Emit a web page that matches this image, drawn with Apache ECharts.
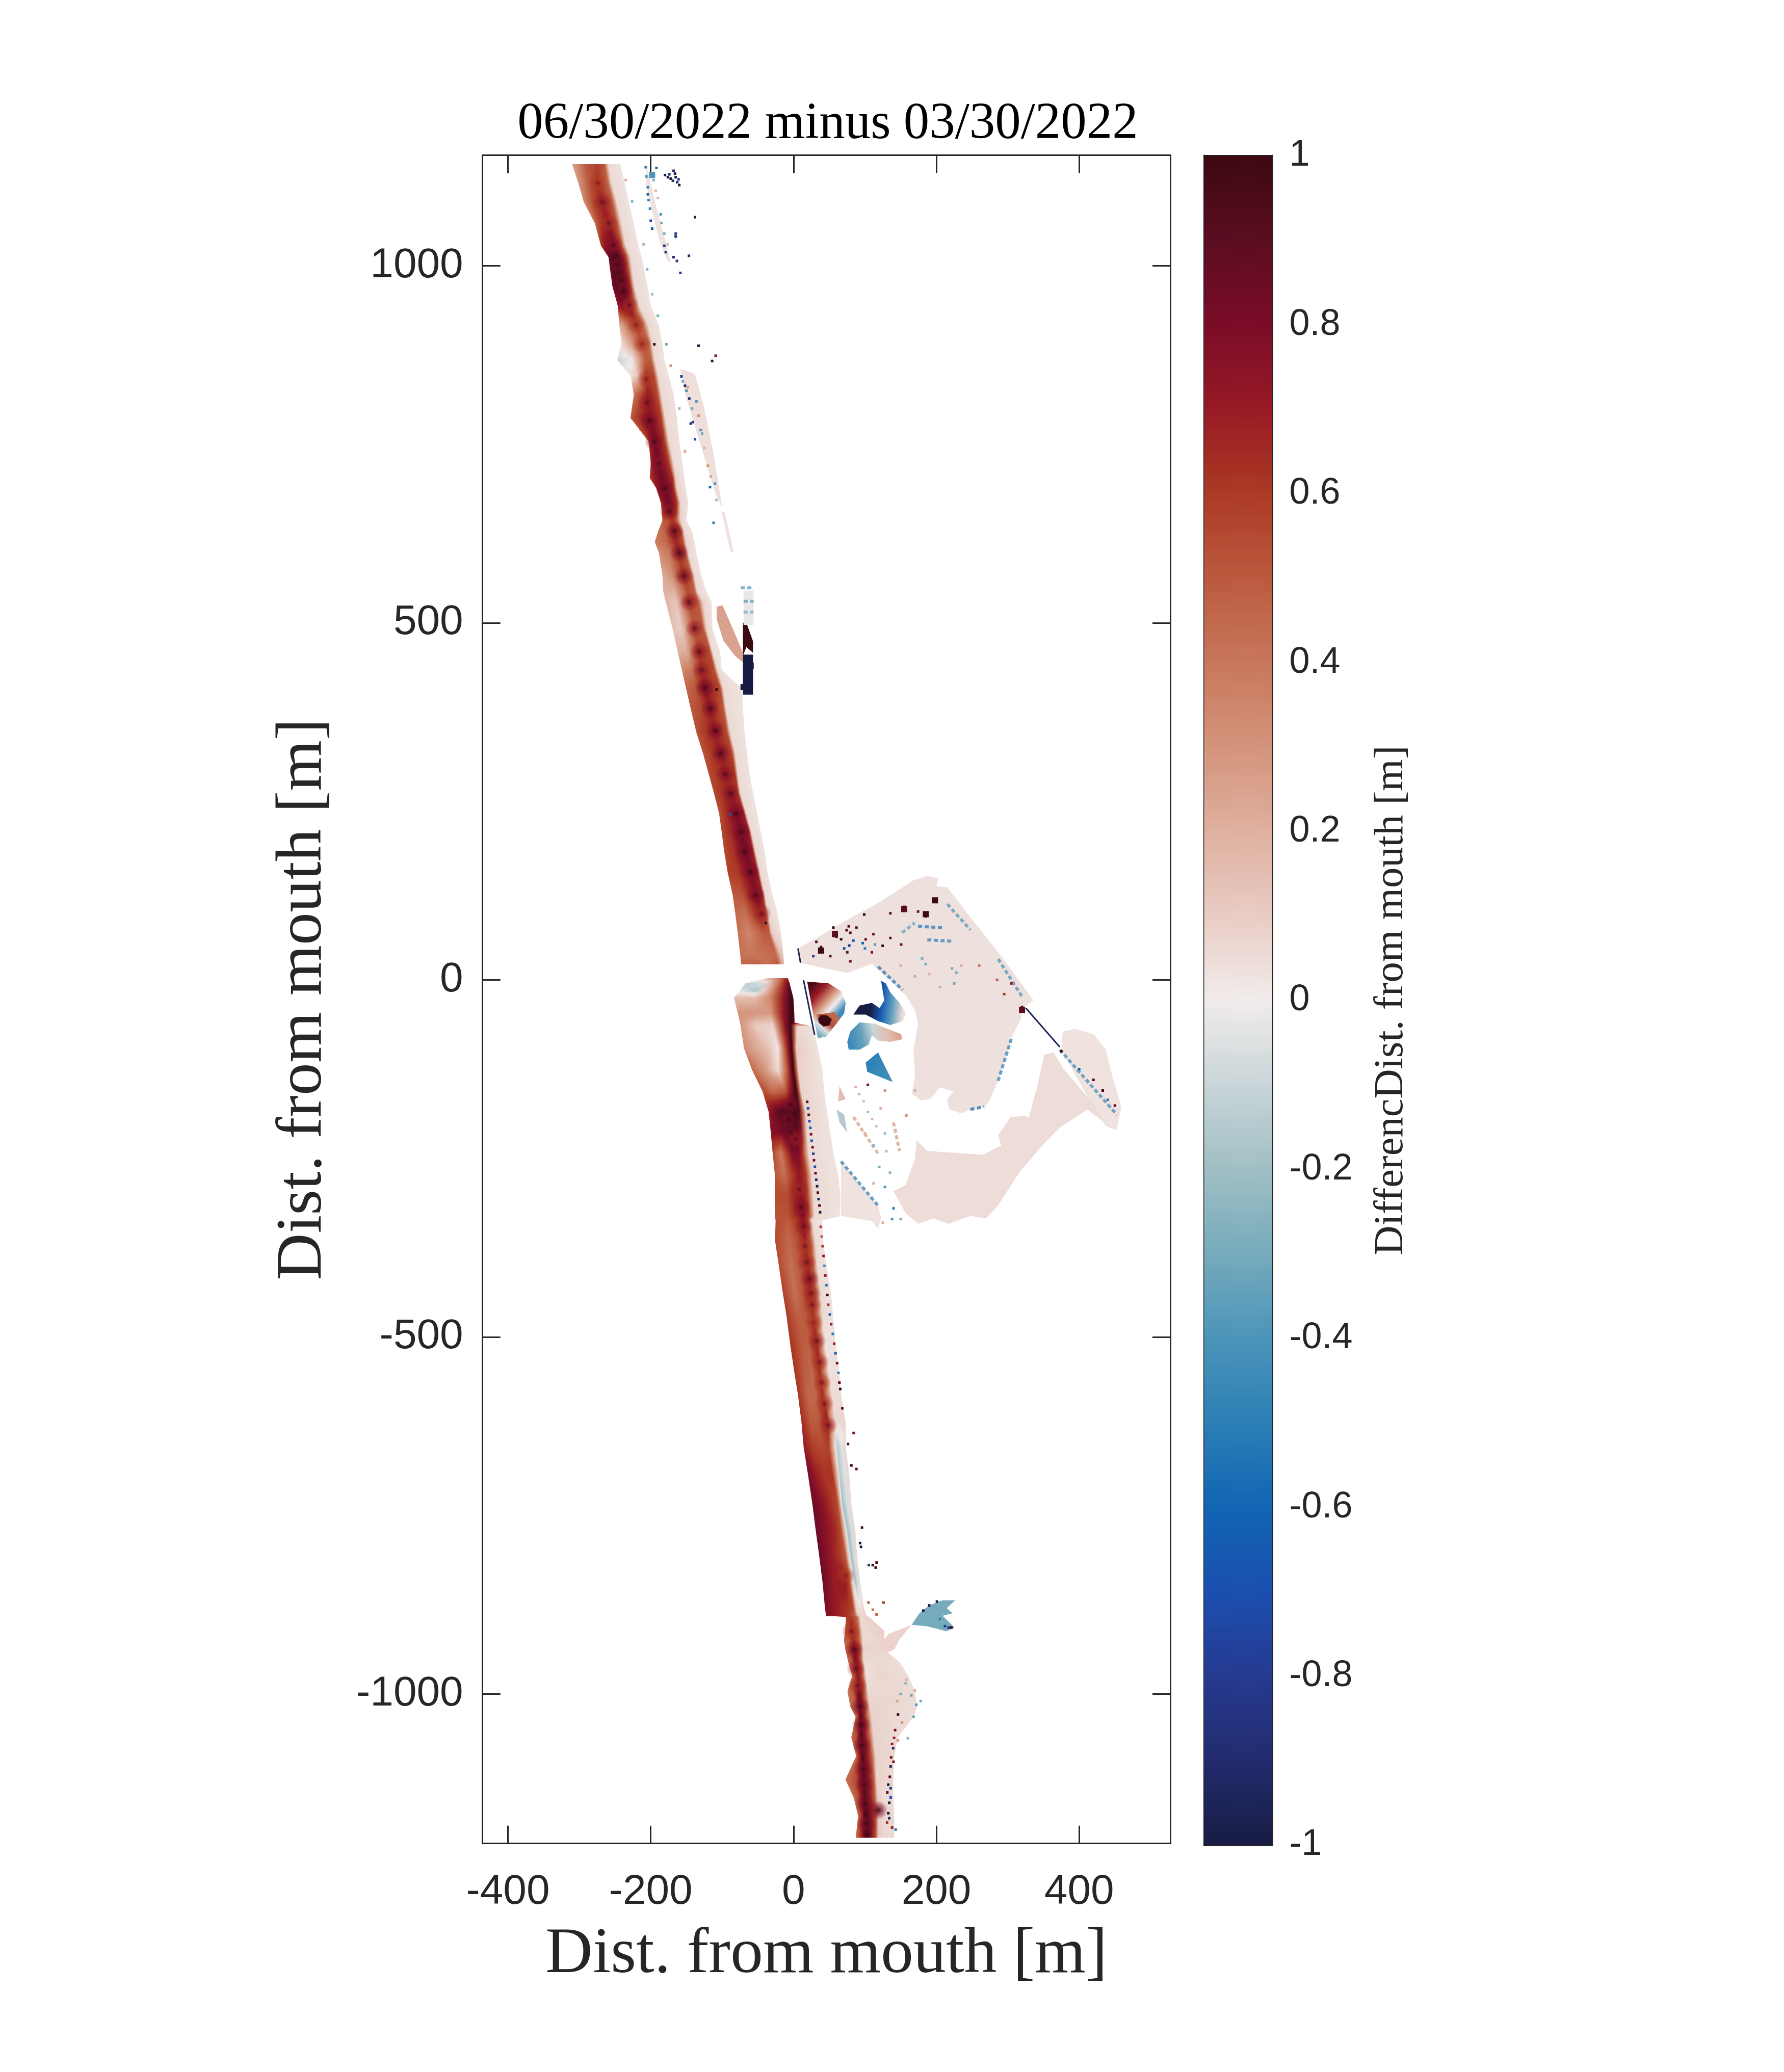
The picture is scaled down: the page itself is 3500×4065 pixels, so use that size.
<!DOCTYPE html>
<html>
<head>
<meta charset="utf-8">
<title>06/30/2022 minus 03/30/2022</title>
<script src="https://cdn.jsdelivr.net/npm/echarts@6/dist/echarts.min.js"></script>
<style>
  html, body { margin: 0; padding: 0; background: #fff; }
  #chart { width: 3500px; height: 4065px; }
</style>
</head>
<body>
<div id="chart"></div>
<script>
var xTicks = [-400, -200, 0, 200, 400];
var yTicks = [-1000, -500, 0, 500, 1000];
var cbTicks = [-1, -0.8, -0.6, -0.4, -0.2, 0, 0.2, 0.4, 0.6, 0.8, 1];

// colour map of the bar, value -> colour
var cmapValues = [-1, -0.9, -0.8, -0.7, -0.6, -0.5, -0.4, -0.3, -0.2, -0.1, 0, 0.1, 0.2, 0.3, 0.4, 0.5, 0.6, 0.7, 0.8, 0.9, 1];
var cmapColors = ['#181c43', '#222c6e', '#263a90', '#1b4fb0', '#1165b3', '#2b7fb5', '#4c95ba', '#76abbc', '#a0bfc4', '#c9d5d8', '#f1eceb',
  '#e9ccc4', '#dfb09f', '#d4947c', '#c8775b', '#bb5a3e', '#ac3a24', '#971a24', '#7b0c28', '#5b0d20', '#3c0912'];

// north strip, y then x,value pairs going landward
var northRows = [
  [1142, -310, .25, -290.4, .5, -274.5, .58, -265, .5, -259.2, .06, -242.7, .03],
  [1116, -301.5, .28, -287, .5, -274, .62, -260, .45, -255, .06, -236.4, .03],
  [1089, -293.6, .33, -281, .55, -267.5, .68, -253.8, .5, -247.5, .06, -230.7, .03],
  [1059, -278, .42, -271.3, .58, -258.6, .72, -247.5, .5, -241, .06, -223.7, .03],
  [1028, -269.7, .6, -265, .72, -252, .85, -241, .55, -234.8, .06, -217.3, .03],
  [1012, -259, .85, -255.5, .9, -246, .98, -234.8, .6, -228.4, .06, -212.6, .03],
  [972, -253.8, .8, -249, .95, -239.6, 1, -228.4, .6, -223, .06, -204.6, .03],
  [943, -245.9, .7, -241, .75, -230, .78, -222, .45, -215.7, .06, -199.8, .03],
  [917, -244, .2, -233, .4, -220.5, .58, -211, .45, -203, .06, -188.7, .03],
  [892, -241, .06, -226.8, .28, -212.5, .5, -203, .45, -198, .06, -184, .03],
  [868, -246.5, -.12, -226.8, 0, -207.8, .48, -199.8, .5, -194.4, .06, -180.8, .03],
  [845, -228, .02, -217.3, .15, -206, .62, -195, .55, -189.4, .06, -174.4, .03],
  [819, -223.7, .4, -214, .55, -204, .7, -190.3, .55, -185, .06, -168, .04],
  [787, -228.4, .5, -214, .65, -201.4, .75, -185.6, .6, -179.8, .06, -163.3, .04],
  [754, -203, .55, -199.8, .7, -194.4, .85, -180.8, .62, -174.4, .06, -160, .04],
  [723, -199.8, .65, -196.7, .75, -188.7, .82, -174.4, .6, -168, .06, -155.4, .03],
  [703, -201.4, .58, -191.9, .75, -184, .85, -169.7, .65, -165, .08, -152.8, .03],
  [688, -191.9, .7, -187, .78, -180.8, .85, -168, .65, -163.3, .08, -150.6, .03],
  [667, -185.5, .65, -180.8, .78, -173, .85, -163.3, .62, -158.5, .08, -147.4, .03],
  [643, -183.6, .5, -174, .55, -170, .62, -165, .55, -158, .08, -150, .03],
  [628, -189.6, .4, -176.5, .5, -167, .65, -157.5, .55, -153.3, .06, -142.1, .03],
  [613, -194.3, .38, -178.9, .45, -164.7, .68, -155.2, .55, -150.4, .08, -138.6, .03],
  [598, -188.4, .33, -174.1, .4, -160.4, .62, -151.6, .5, -148, .06, -136.2, .03],
  [566, -183.6, .22, -171.8, .3, -154, .6, -143.3, .5, -138.6, .06, -129.1, .03],
  [544, -182.4, .2, -167, .2, -148, .55, -138.6, .48, -135, .06, -122, .03],
  [529, -178.9, .18, -164.7, .12, -146.4, .55, -133.8, .5, -126.7, .08, -114.8, .03],
  [492, -169.4, .14, -157.5, .1, -138.6, .5, -126.7, .5, -122, .08, -113.6, .03],
  [460, -162.3, .2, -150.4, .2, -132.6, .6, -117.2, .55, -113.6, .04, -103, .03],
  [434, -156.4, .33, -143.3, .4, -129.1, .62, -111.3, .55, -106.5, .06, -100.6, .03],
  [408, -150.4, .45, -138.6, .5, -124.3, .75, -103, .55, -98.2, .06, -72.1, .03],
  [380, -144, .5, -131.4, .55, -117.2, .68, -98.2, .5, -94.7, .06, -70.9, .03],
  [347, -136.2, .52, -124.3, .6, -110.1, .68, -93.5, .55, -88.7, .06, -68.6, .03],
  [317, -126.7, .52, -114.8, .6, -101.8, .7, -86.4, .58, -81.6, .06, -65, .03],
  [287, -118.4, .55, -107.7, .6, -94.7, .68, -81.6, .6, -78, .06, -61.5, .03],
  [261, -111.3, .55, -100.6, .62, -88.7, .68, -78, .62, -74.5, .06, -56.7, .03],
  [233, -104.2, .52, -93.5, .65, -80.4, .78, -69.8, .68, -66.2, .06, -50.8, .03],
  [207, -100.6, .55, -88.7, .65, -73.3, .84, -62.6, .7, -59.1, .06, -46, .03],
  [179, -97, .55, -84, .62, -68.6, .84, -56.7, .68, -53.1, .06, -40.1, .03],
  [151, -92.3, .58, -79.2, .6, -60.3, .8, -50.8, .7, -47.2, .06, -36.5, .03],
  [119, -85.2, .5, -72.1, .52, -53.1, .78, -43.6, .68, -40.1, .06, -29.4, .03],
  [93, -81.6, .45, -67.4, .42, -46, .72, -38.9, .58, -35.4, .06, -22.3, .03],
  [65, -78, .42, -62.6, .35, -41.3, .5, -34.2, .5, -30.6, .1, -17.6, .04],
  [34, -74.5, .42, -60.3, .4, -41.3, .42, -24.7, .45, -17.6, .15, -14, .1],
  [22, -73.3, .45, -53.1, .48, -36.5, .42, -22.3, .5, -15.2, .2, -13.3, .15]
];

// south strip, one more pair because of the dark line at the waterline
var southRows = [
  [2, -36.9, .12, -24, .35, -15.4, .5, -8.9, .7, -8.6, .72, -8.3, .72, -8, .72],
  [-5, -67.2, -.15, -41.3, -.05, -19.7, .45, -6.5, .85, -6, .88, -5.7, .88, -5.4, .88],
  [-15, -74.9, -.05, -54.2, -.18, -30.5, .3, -13.2, .7, -4, .95, -3.5, .95, -3, .95],
  [-25, -83.5, .15, -54.2, .15, -32.6, .35, -13.2, .75, -2.5, 1, -1, 1, -.3, 1],
  [-47, -77.9, .3, -54.2, .3, -32.6, .28, -15.4, .7, -2.5, 1, .5, .98, 1, .95],
  [-60, -75, .3, -53, .15, -30, .12, -13, .72, -3, 1, 1, .9, 1.5, .7],
  [-65, -74, .3, -52, .1, -29, .08, -12, .74, -4, 1, 5, .06, 27, .03],
  [-96, -69.3, .32, -37, .15, -21.9, .02, -11.1, .55, -2.5, 1, 4, .1, 34.2, .03],
  [-127, -57.7, .45, -39, .28, -21.9, .05, -8.9, .5, -.3, 1, 7, .08, 40.7, .03],
  [-156, -43.4, .55, -28.3, .42, -11.1, .5, -2.5, .8, 4, 1, 10.5, .08, 42.8, .03],
  [-185, -34.8, .7, -21.9, .9, -6.8, .98, 1.9, 1, 8.3, .9, 17, .08, 47.1, .03],
  [-214, -31.8, .75, -17.6, .8, -4.6, .95, 4, .95, 10.5, .75, 19.1, .06, 51.5, .03],
  [-243, -29.2, .55, -17.6, .38, -2.5, .78, 7, .8, 12.6, .6, 21.3, .06, 55.8, .03],
  [-272, -26.2, .52, -13.2, .42, 1.9, .65, 8.3, .72, 17, .6, 25.6, .06, 62.2, .03],
  [-301, -26.2, .55, -8.9, .55, 4, .7, 10.5, .78, 19.1, .6, 27.7, .06, 65.7, .03],
  [-331, -26.2, .52, -8.9, .52, 6.2, .68, 12.6, .78, 21.3, .6, 29.9, .06, 65, .03],
  [-337, -25, .55, -8, .5, 7, .62, 13, .75, 20, .55, 25, .06, 40, .03],
  [-364, -26, .55, -6.4, .45, 6.4, .55, 15.9, .7, 23.8, .5, 30.2, .06, 41.3, .03],
  [-400, -20.6, .55, -3.2, .42, 9.5, .52, 19.1, .65, 27, .5, 33.4, .06, 46, .03],
  [-437, -15.2, .58, 1.6, .42, 12.7, .52, 23.8, .7, 30.2, .5, 38.1, .06, 52.4, .03],
  [-473, -9.5, .6, 6.4, .48, 17.5, .5, 28, .62, 33.4, .45, 40.7, .06, 55.6, .03],
  [-509, -4.8, .62, 11.1, .5, 20.7, .48, 32.4, .68, 38.1, .35, 43.8, .03, 58.8, .04],
  [-546, .6, .62, 14.3, .5, 25.4, .45, 36.5, .65, 42.9, .35, 49.2, .03, 63.5, .04],
  [-582, 6.4, .62, 20.7, .45, 30.2, .45, 40.7, .65, 47.7, .35, 54, .05, 66.7, .06],
  [-619, 11.1, .65, 23.8, .5, 35, .5, 47.7, .7, 52.4, .3, 58.8, .06, 73, .07],
  [-655, 14.3, .72, 27, .58, 39.7, .55, 49.2, .58, 55.6, .2, 62, -.15, 73, .07],
  [-691, 20, .82, 31.8, .68, 42.9, .62, 54, .62, 59.7, .25, 65.1, -.15, 77.8, .07],
  [-734, 26.4, .85, 40, .75, 53.7, .62, 61.8, .55, 65.9, .15, 68.6, -.2, 80.9, .07],
  [-770, 31, .85, 45.5, .75, 59.1, .65, 65.9, .55, 71.4, .15, 75.5, -.2, 86.4, .07],
  [-807, 36, .85, 51, .72, 64.6, .6, 72.7, .5, 76.8, .1, 80.9, -.2, 89.1, .06],
  [-843, 40.6, .85, 56.4, .7, 72.7, .72, 78.2, .55, 82.3, .1, 86.4, -.2, 93.2, .07],
  [-880, 44.1, .8, 59.1, .7, 75.5, .62, 83.6, .55, 87.7, .08, 93.2, .04, 98.6, .07],
  [-890.6, 45.5, .78, 61.8, .7, 76.8, .6, 85, .5, 90.4, .08, 94.5, .07, 102.7, .07],
  [-892, 73.5, .6, 76.8, .6, 80.9, .6, 89.1, .45, 93.2, .06, 97.3, .07, 105.4, .08],
  [-912, 72.2, .52, 76.8, .55, 80.9, .72, 90.4, .5, 95.9, .06, 102.7, .07, 127.2, .1],
  [-925, 70.6, .45, 76.8, .5, 83.6, .65, 91.8, .5, 97.3, .06, 113.6, .07, 127.2, .08],
  [-938, 72.7, .45, 78.2, .5, 85, .85, 93.2, .5, 97.3, .08, 113.6, .07, 127.2, .07],
  [-956, 76.8, .45, 82.3, .55, 87.7, .82, 94.5, .5, 98.6, .05, 119, .06, 149, .05],
  [-974, 82.3, .42, 85, .5, 90.4, .78, 97.3, .45, 101.3, .04, 119, .07, 160, .05],
  [-996, 75.5, .4, 83.6, .5, 91.8, .9, 100, .45, 104.1, .06, 127.2, .07, 170, .05],
  [-1018, 79.5, .42, 87.7, .5, 93.2, .9, 102.7, .4, 106.8, .08, 127.2, .07, 173, .05],
  [-1032, 86.9, .42, 89.6, .55, 94.5, .95, 104.1, .4, 109.5, .08, 127.2, .07, 168, .05],
  [-1061, 80.9, .45, 87.7, .55, 95.1, .95, 106.8, .45, 112.2, .08, 127.2, .07, 146, .05],
  [-1087, 87.7, .42, 90.4, .58, 96.7, .95, 109.5, .5, 115, .08, 127.2, .07, 141, .07],
  [-1120, 72.7, .42, 87.7, .55, 98.6, .95, 112.2, .5, 116.3, .08, 127.2, .07, 139.5, .07],
  [-1145, 84.2, .42, 90.4, .55, 100, .95, 113.6, .5, 117.7, .1, 127.2, .04, 139.5, .07],
  [-1171, 90.4, .42, 94.5, .6, 101.3, 1, 115, .55, 119, .1, 127.2, .06, 140.8, .07],
  [-1201, 87.2, .42, 93.2, .6, 102.7, 1, 115, .55, 118.5, .12, 127.2, .06, 140.8, .07]
];

// dark spots on the bar: x, y, value
var barSpots = [
  [-273.9, 1115.8, .75], [-267.5, 1089.2, .88], [-258.6, 1059.4, .85], [-252.3, 1028.5, .95], [-245.9, 1001, 1], [-241, 979.4, 1], [-238, 964.8, 1],
  [-230, 944.8, .85], [-220.5, 917.5, .72], [-212.5, 890.3, .68], [-206.2, 841.2, .75], [-204.6, 808.5, .9], [-201.4, 783, 1], [-195.1, 753.9, .98],
  [-188.7, 723, .95], [-180.2, 688.4, 1], [-174.1, 656, .95], [-167, 628.3, .98], [-159.9, 598.1, 1], [-153.5, 565.7, .95], [-146.4, 529, .92],
  [-138.6, 492.2, .9], [-132.2, 459.8, .92], [-128.6, 433.9, .9], [-124.3, 409.3, 1], [-116.5, 379.9, 1], [-109.4, 348.8, 1], [-102.3, 317.3, 1],
  [-95.4, 287.9, .95], [-88.3, 261.1, .98], [-80.4, 233, 1], [-73.3, 207.1, 1], [-68.6, 179, 1], [-60.3, 151, 1], [-53.1, 118.6, .98], [-44.8, 92.6, .85],
  [-6.4, -195.8, 1], [-4, -175, 1], [-3, -215, 1], [3.2, -223, .9], [8, -293.5, .85], [10.5, -318.5, .95], [14.3, -344.9, .9], [15.9, -373, .8],
  [18.4, -395.8, .85], [22.2, -418.6, .92], [24.5, -439, .85], [26, -455, .82], [28, -480, .7], [32.4, -505.8, .85], [36.5, -535.4, .82],
  [39.7, -564, .8], [43.2, -593.6, .8], [48.3, -624, .85], [72.7, -834.2, .75], [80.9, -912.4, .8], [85, -937.8, .95], [87.7, -964.4, .9],
  [89.9, -988, .85], [93.2, -1017.9, 1], [95.1, -1043.3, 1], [95.9, -1072.4, 1], [97.8, -1105.1, 1], [99.4, -1127, 1], [100, -1154.2, 1],
  [101.9, -1181.5, 1], [118.5, -1162.6, 1]
];

// flat or graded areas behind and beside the strip
var patchOutlines = [
  [[6.2, 44.1], [32.1, 58.6], [75.2, 84.1], [118.3, 107.7], [152.8, 129.6], [165.8, 138.6], [187.3, 145.9], [202.4, 142.3], [200.3, 131.4], [215.4, 129.6], [247.7, 87.7], [290.8, 33.2], [336.1, -28.7], [321, -39.6], [318.9, -54.1], [305.9, -79.6], [295.1, -116], [286.5, -141.4], [273.6, -170.5], [267.1, -177.8], [247.7, -181.4], [234.8, -186.9], [217.5, -181.4], [215.4, -166.9], [224, -156], [204.6, -150.5], [191.6, -166.9], [178.7, -168.7], [165.8, -159.6], [170.1, -134.1], [167.9, -97.8], [174.4, -61.4], [170.1, -43.2], [157.1, -21.4], [135.6, -1.6], [109.7, 22.3], [75.2, 9.5], [32.1, 18.6], [8.3, 24.1]],
  [[377.1, -72.3], [394.3, -68.7], [420.2, -76], [437.5, -97.8], [446.1, -134.1], [459, -177.8], [452.6, -210.5], [437.5, -205], [411.6, -163.2], [375, -97.8]],
  [[351.2, -105], [364.2, -101.4], [377.1, -123.2], [420.2, -174.1], [439.6, -203.2], [411.6, -181.4], [372.8, -206.9], [351.2, -228.7], [316.7, -268.7], [286.5, -316], [269.3, -334.2], [247.7, -330.5], [217.5, -341.4], [196, -334.2], [174.4, -341.4], [157.1, -326.9], [139.9, -296], [157.1, -286.9], [170.1, -250.5], [172.2, -225], [187.3, -239.6], [265, -245], [290.8, -232.3], [286.5, -217.8], [303.8, -192.3], [323.2, -190.5], [329.6, -192.3], [340.4, -152.3]],
  [[66.6, -254.2], [118.3, -316], [122.6, -334.2], [118.3, -348.7], [109.7, -337.8], [66.6, -330.5]],
  [[19.1, -2.5], [49.3, -5], [66.6, -15.9], [73, -32.3], [70.9, -46.8], [60.1, -61.4], [45, -79.6], [34.2, -81.4], [29.9, -61.4]],
  [[32.1, -48.7], [57.9, -45], [64.4, -54.1], [60.1, -61.4], [45, -79.6], [34.2, -81.4], [29.9, -61.4]],
  [[38, -49.8], [47, -49.8], [53.6, -55], [50, -64], [42, -65.5], [35.5, -60], [34.2, -54]],
  [[122.6, -1.4], [129.1, -5], [135.6, -17.7], [148.5, -32.3], [157.1, -46.8], [152.8, -57.8], [135.6, -63.2], [118.3, -57.8], [101, -48.7], [83.8, -48.7], [92.4, -35.9], [109.7, -32.3], [120.5, -39.6], [127, -28.7]],
  [[92.4, -59.6], [114, -61.4], [127, -66.9], [150.7, -76], [152, -83.2], [135.6, -86.9], [118.3, -85], [109.7, -77.8], [105.4, -90.5], [92.4, -97.8], [77.3, -97.8], [75.2, -86.9], [79.5, -72.3]],
  [[118.3, -101.4], [139, -143.2], [103.2, -128.7], [101, -116]],
  [[-107.7, 522.5], [-99.4, 524.6], [-81.6, 483.6], [-70.9, 457.7], [-70.9, 444.7], [-81.6, 453.4], [-98.2, 475], [-107.7, 505.2]],
  [[-70.9, 455.5], [-56.7, 455.5], [-56.7, 399.4], [-70.9, 399.4]],
  [[-70.9, 500], [-66, 500], [-56.7, 474], [-56.7, 458], [-66, 466], [-70.9, 454]],
  [[-70, 545], [-56, 545], [-56, 497], [-70, 497]],
  [[-206.2, 1139.4], [-201.4, 1121.2], [-191.9, 1081.2], [-179.2, 1034], [-171.2, 1003], [-177.6, 1008.5], [-188.7, 1037.6], [-198.3, 1077.6], [-206.2, 1114]],
  [[-158.5, 855.7], [-137.9, 848.5], [-125.2, 801.2], [-112.5, 739.3], [-99.8, 661.1], [-109.3, 681.1], [-131.5, 753.9], [-150.6, 815.7]],
  [[-101, 656], [-96, 654], [-84, 600], [-88, 598]],
  [[165.3, -903.3], [176.2, -887], [189.9, -876], [208.9, -868.7], [226.6, -868.7], [214.4, -879.6], [222.6, -886.9], [208.9, -890.6], [225.3, -906.9], [214.4, -912.4], [187.1, -905.1]],
  [[113.6, -942], [132.7, -916], [165.3, -903.3], [148.9, -923], [140.8, -938], [113.6, -948]],
  [[60.1, -181.4], [70.9, -188.7], [75.2, -214], [64.4, -199.6]],
  [[64.4, -148.7], [73, -166.9], [62.2, -170.5]]
];
var patchValues = [
  [.035], [.03], [.05], [.03],
  [.95, .7, .35, 0, -.45],
  [.45, .55, -.05, -.3],
  [1],
  [-1, -1, -.65, -.35, .05],
  [-.45, -.35, -.1, .15, .25],
  [-.5, -.42],
  [.25], [-1], [1], [-.02],
  [.03], [.04], [.03], [-.3], [.08], [-.15], [.15]
];
// direction of the grade inside a patch, from point to point (null when flat)
var patchAxes = [
  null, null, null, null,
  [23.4, -10.5, 64.4, -46.8],
  [57.9, -54.1, 36.4, -77.8],
  null,
  [92.4, -39.6, 152.8, -46.8],
  [79.5, -90.5, 148.5, -76],
  [101, -116, 139, -143],
  null, null, null, null, null, null, null, null, null, null, null
];

// thin lines: x1, y1, x2, y2, value
var streaks = [
  [174.4, 75, 208.9, 73, -.55], [187.3, 56, 224, 54, -.5], [152, 66, 170, 80, -.35], [215.4, 106, 247.7, 70, -.4], [286.5, 29, 321, -25, -.42],
  [325.3, -39.6, 372.8, -94, -.95], [372.8, -97.8, 452.6, -188.7, -.45], [118.3, 18.6, 152.8, -14.1, -.55],
  [6.2, 44, 9.8, 24, -.95], [14, -0.5, 29.5, -77, -.95], [83.8, -192, 118.3, -243.2, .28], [139.9, -199.6, 148.5, -239.6, .3],
  [247.7, -181.4, 267.1, -177.8, -.6], [286.5, -141.4, 305.9, -79.6, -.5], [66.6, -254.2, 118.3, -316, -.5], [-74, 549, -56, 549, -.4], [-70, 530, -56, 530, -.4], [-70, 515, -56, 515, -.3]
];

// small spots: x, y, value
var fineSpots = [
  [-180, 1127, -1], [-176, 1124, -1], [-172, 1122, -1], [-169, 1119, -.9], [-166, 1129, -1], [-165, 1124, -1], [-163, 1117, -.9], [-161, 1121, -.8], [-168, 1133, -.9], [-160, 1113, -1], [-174, 1128, -.9],
  [-192, 1137, -.6], [-138, 1068, -1], [-165, 1045, -.8], [-165, 1041, -.9], [-168, 1012, -.9], [-163.3, 1006.7, -.9], [-158.5, 990, -.8], [-146.5, 1014, -.9],
  [-207, 1138, -.5], [-206, 1125, -.4], [-204, 1110, -.5], [-204, 1100, -.6], [-203, 1092, -.5], [-201, 1080, -.5], [-200, 1063, -.7], [-198, 1052, -.7], [-181, 1028, -.8], [-179, 1019, -.8],
  [-195, 890, 1], [-133, 888, -1], [-114, 866.6, -1], [-109, 874, .8], [-152, 832, -.9], [-146, 814, -.9], [-141, 781, -.8], [-138, 757, -.7], [-117, 690, -.6], [-157, 845, -.7], [-144, 779, -.9],
  [-150, 825, -.4], [-142, 800, -.3], [-130, 770, -.4], [-120, 720, .3], [-110, 695, -.4], [-190, 1095, .2], [-185, 1060, -.3], [-112, 640, -.5],
  [-196, 1120, -.3], [-193, 1105, .2], [-186, 1072, -.4], [-181, 1045, -.3], [-176, 1030, .2], [-155, 838, -.3], [-148, 830, .3], [-136, 810, -.4], [-133, 790, .3], [-128, 765, -.3], [-125, 745, .2], [-116, 705, .25], [-108, 672, -.2],
  [-205, 995, -.25], [-198, 960, -.2], [-190, 930, -.3], [-178, 890, -.3], [-172, 860, .3], [-160, 800, -.2], [-152, 740, .25], [-226, 1090, -.25], [-235, 1120, .2], [-210, 1030, -.2],
  [-88.7, 232, -.6], [-38.9, 79.7, -1], [-107.7, 406.7, 1],
  [19.1, -170.8, .9], [20.3, -179.9, -.7], [21.3, -189, .9], [22.2, -198, -.7], [23.5, -207.2, -.6], [24.5, -216.2, .8], [25.4, -225.3, -.6], [26.7, -234.4, .8], [27.6, -243.5, -.8], [28.6, -252.6, .8], [29.9, -261.7, -.7], [30.8, -270.8, .9], [31.8, -279.9, -.9], [33, -289, -1], [34, -298, .9], [35, -307, -.9], [36.2, -316, .9], [37.2, -325.4, -1],
  [38.1, -345.8, .6], [39.4, -359.5, .5], [40.7, -373, .6], [42, -386.7, .7], [43.2, -400.4, -.4], [44.5, -414, .7], [46, -427.6, -.5], [47.3, -441.3, 1], [48.6, -455, .6], [50.8, -468.6, -.6], [52.7, -482.2, .7], [55, -495.8, -.5], [56.9, -509.5, .7], [58.8, -523, -.6], [61, -536.8, .8], [62.9, -550.4, -.5], [64.2, -564, .9], [65.4, -573, 1],
  [142.2, -1050.6, .8], [140.8, -1061.5, .7], [139.5, -1076, -.9], [136.7, -1088.8, .8], [136, -1101.5, -.9], [134.8, -1116, .9], [132.7, -1127, -1], [131.3, -1137.9, .9], [134, -1152.4, -1], [132.7, -1167, -1], [134, -1174, -.9], [138, -1187, .7], [146.3, -1028.8, 1],
  [138, -1070, .7], [140, -1095, .8], [136, -1132, -.8], [136, -1145, -.7], [131, -1180, .6], [143, -1190, -.5],
  [150, -1000, -.3], [157, -985, -.25], [165, -1002, -.35], [172, -1015, -.4], [178, -1010, -.3], [168, -1032, -.35], [152, -1040, .3], [146, -1065, .3], [160, -1062, -.25], [158, -980, .2], [170, -995, .2], [145, -1010, .25],
  [95.9, -767, 1], [93.2, -788.7, -1], [94.5, -794, -1], [110.9, -819.6, 1], [105.4, -819.6, -.9], [116.3, -816, .9], [115, -823, 1], [116.3, -888.7, .5], [105, -872, .5], [111, -882, .4], [126, -872, .6],
  [84.2, -634.5, .8], [76.3, -650, .9], [81, -680, 1], [68.3, -600, .9], [88, -685, .9],
  [181.7, -883.3, -.95], [189.9, -876, -1], [200.8, -870.6, -1], [217.1, -907, -.9], [221, -907, 1], [212, -905, -.8], [205, -895, -.5],
  [38.5, 45.9, 1], [32, 53.2, .9], [55.8, 73.2, 1], [60.1, 60.4, 1], [66.6, 56.8, 1], [74.3, 69.5, .9], [79.5, 65.9, .9], [77.3, 75, .9], [88.1, 73.2, .9], [98.9, 91.4, 1], [101, 56.8, .8], [111.8, 64, .8], [135.6, 93.2, .9], [155, 102.3, .9], [185.2, 88.8, 1], [174.4, 95.7, .8], [135.6, 58.6, .9], [124.8, 47.7, 1], [150.7, 49.5, .8], [75.2, 38.6, .9], [79.5, 25.9, .8], [51.5, 33.2, .9], [109.7, 38.6, .8],
  [27.7, 33.2, -.8], [83.8, 55, -.6], [70.9, 44, -.7], [96.8, 51.4, -.6], [114, 49.5, -.4], [78, 48, -.8], [100, 44, -.5],
  [180, 30, -.3], [185, 22, -.3], [222, 16, -.3], [228, 10, -.3], [190, 8, .2], [205, -10, -.2], [225, -5, -.3], [150, 20, .2], [170, 5, .25], [235, 20, .2],
  [305, -5, .7], [295, -20, .6], [285, 0, .5], [260, 20, .4], [320, -38, 1], [375, -100, 1], [433, -155, 1], [400, -125, -.6], [420, -140, .9], [440, -168, -.5], [450, -176, .9],
  [87, -150, .2], [92, -160, -.2], [98, -170, .15], [104, -185, -.2], [110, -195, .2], [116, -205, -.15], [122, -180, .2], [128, -215, -.2], [100, -215, .2], [112, -232, -.25], [130, -240, -.2], [120, -262, -.3], [135, -270, -.25], [128, -290, -.4], [112, -285, .2], [140, -320, -.5], [138, -335, -.4], [150, -335, -.3], [125, -340, .2],
  [104, -147, .8], [128, -155, .3], [158, -190, .3], [170, -155, .2]
];
var coarseSpots = [
  [198.1, 111.4, 1], [155, 99, .9], [185.2, 92, 1], [38.5, 41, 1], [58, 64, .9], [320, -42, .9],
  [-70, 410, -1], [-60, 440, -1], [-62, 418, -1], [-198, 1127, -.4]
];

var colorOf = function (v) {
  if (v <= -1) return cmapColors[0];
  if (v >= 1) return cmapColors[cmapColors.length - 1];
  var i = Math.floor((v + 1) * 10);
  var t = (v - cmapValues[i]) / (cmapValues[i + 1] - cmapValues[i]);
  var a = echarts.color.parse(cmapColors[i]);
  var b = echarts.color.parse(cmapColors[i + 1]);
  return 'rgb(' + Math.round(a[0] + (b[0] - a[0]) * t) + ',' + Math.round(a[1] + (b[1] - a[1]) * t) + ',' + Math.round(a[2] + (b[2] - a[2]) * t) + ')';
};

// each strip segment between two rows is drawn as thin bands with a gradient over x
var renderStrip = function (rows) {
  return function (params, api) {
    var a = rows[api.value(0)];
    var b = rows[api.value(0) + 1];
    var n = (a.length - 1) / 2;
    var ya = api.coord([0, a[0]])[1];
    var yb = api.coord([0, b[0]])[1];
    var bands = Math.max(1, Math.ceil((yb - ya) / 4));
    var children = [];
    for (var k = 0; k < bands; k++) {
      var t0 = k / bands;
      var t1 = (k + 1) / bands;
      var tm = (t0 + t1) / 2;
      var xs = [];
      var vs = [];
      for (var s = 0; s < n; s++) {
        xs.push(a[1 + 2 * s] + (b[1 + 2 * s] - a[1 + 2 * s]) * tm);
        vs.push(a[2 + 2 * s] + (b[2 + 2 * s] - a[2 + 2 * s]) * tm);
      }
      var y0 = ya + (yb - ya) * t0 - 0.5;
      var y1 = ya + (yb - ya) * t1 + 0.5;
      var lt = api.coord([a[1] + (b[1] - a[1]) * t0, 0])[0];
      var lb = api.coord([a[1] + (b[1] - a[1]) * t1, 0])[0];
      var rt = api.coord([a[n * 2 - 1] + (b[n * 2 - 1] - a[n * 2 - 1]) * t0, 0])[0];
      var rb = api.coord([a[n * 2 - 1] + (b[n * 2 - 1] - a[n * 2 - 1]) * t1, 0])[0];
      var px0 = Math.min(lt, lb);
      var px1 = Math.max(rt, rb, px0 + 1);
      var stops = [];
      for (s = 0; s < n; s++) {
        var off = (api.coord([xs[s], 0])[0] - px0) / (px1 - px0);
        off = Math.min(1, Math.max(0, off));
        stops.push({ offset: off, color: colorOf(vs[s]) });
        if (s < n - 1) {
          var off2 = (api.coord([xs[s + 1], 0])[0] - px0) / (px1 - px0);
          off2 = Math.min(1, Math.max(0, off2));
          stops.push({ offset: off + (off2 - off) / 2, color: colorOf((vs[s] + vs[s + 1]) / 2) });
        }
      }
      children.push({
        type: 'polygon',
        shape: { points: [[lt, y0], [rt, y0], [rb, y1], [lb, y1]] },
        style: { fill: new echarts.graphic.LinearGradient(px0, 0, px1, 0, stops, true) }
      });
    }
    return { type: 'group', children: children };
  };
};

var renderPatch = function (params, api) {
  var i = api.value(0);
  var pts = patchOutlines[i].map(function (p) { return api.coord(p); });
  var vals = patchValues[i];
  var fill = colorOf(vals[0]);
  if (patchAxes[i]) {
    var p0 = api.coord([patchAxes[i][0], patchAxes[i][1]]);
    var p1 = api.coord([patchAxes[i][2], patchAxes[i][3]]);
    fill = new echarts.graphic.LinearGradient(p0[0], p0[1], p1[0], p1[1], vals.map(function (v, j) {
      return { offset: j / (vals.length - 1), color: colorOf(v) };
    }), true);
  }
  return { type: 'polygon', shape: { points: pts }, style: { fill: fill } };
};

// spot fades through the red of the bar so the edge stays warm
var renderSpot = function (params, api) {
  var p = api.coord([api.value(0), api.value(1)]);
  var c = echarts.color.parse(colorOf(api.value(2)));
  var m = echarts.color.parse(colorOf(Math.max(.6, api.value(2) - .2)));
  return {
    type: 'circle',
    shape: { cx: p[0], cy: p[1], r: 19 },
    style: {
      fill: new echarts.graphic.RadialGradient(0.5, 0.5, 0.5, [
        { offset: 0, color: 'rgba(' + c[0] + ',' + c[1] + ',' + c[2] + ',0.95)' },
        { offset: 0.4, color: 'rgba(' + m[0] + ',' + m[1] + ',' + m[2] + ',0.65)' },
        { offset: 1, color: 'rgba(' + m[0] + ',' + m[1] + ',' + m[2] + ',0)' }
      ])
    }
  };
};

var renderStreak = function (params, api) {
  var p0 = api.coord([api.value(0), api.value(1)]);
  var p1 = api.coord([api.value(2), api.value(3)]);
  var solid = api.value(4) <= -.9;
  return {
    type: 'line',
    shape: { x1: p0[0], y1: p0[1], x2: p1[0], y2: p1[1] },
    style: { stroke: colorOf(api.value(4)), lineWidth: solid ? 3 : 6, lineDash: solid ? null : [8, 5], opacity: solid ? 1 : 0.7, fill: null }
  };
};

var renderBar = function (params, api) {
  var p0 = api.coord([0, 1]);
  var p1 = api.coord([1, -1]);
  var stops = cmapValues.map(function (v, i) {
    return { offset: (1 - v) / 2, color: cmapColors[i] };
  }).reverse();
  return {
    type: 'rect',
    shape: { x: p0[0], y: p0[1], width: p1[0] - p0[0], height: p1[1] - p0[1] },
    style: { fill: new echarts.graphic.LinearGradient(0, 0, 0, 1, stops) }
  };
};

var indexList = function (n) {
  var out = [];
  for (var i = 0; i < n; i++) out.push([i]);
  return out;
};

var axisColor = '#262626';
var mainAxis = function (ticks, extra, labelExtra) {
  return Object.assign({
    type: 'value',
    gridIndex: 0,
    splitLine: { show: false },
    axisLine: { show: true, onZero: false, lineStyle: { color: axisColor, width: 3 } },
    axisTick: { show: true, inside: true, length: 35, customValues: ticks, lineStyle: { color: axisColor, width: 3 } },
    axisLabel: Object.assign({
      show: true,
      customValues: ticks,
      color: axisColor,
      fontFamily: 'Liberation Sans',
      fontSize: 82,
      formatter: function (v) { return String(v); }
    }, labelExtra)
  }, extra);
};

var option = {
  backgroundColor: '#fff',
  animation: false,
  title: {
    text: '06/30/2022 minus 03/30/2022',
    left: 1619,
    top: 189,
    textAlign: 'center',
    textStyle: { fontFamily: 'Liberation Serif', fontWeight: 'normal', fontSize: 101, color: '#000' }
  },
  grid: [
    { left: 946.7, top: 304.5, width: 1349.3, height: 3312.2 },
    { left: 2362.5, top: 305.5, width: 133, height: 3314 }
  ],
  xAxis: [
    mainAxis(xTicks, {
      min: -435.5, max: 527.6, position: 'bottom',
      name: 'Dist. from mouth [m]', nameLocation: 'middle', nameGap: 155,
      nameTextStyle: { fontFamily: 'Liberation Serif', fontSize: 128, color: axisColor }
    }, { margin: 55 }),
    mainAxis(xTicks, { min: -435.5, max: 527.6, position: 'top', axisLabel: { show: false } }),
    {
      type: 'value', gridIndex: 1, min: 0, max: 1, position: 'bottom',
      splitLine: { show: false }, axisTick: { show: false }, axisLabel: { show: false },
      axisLine: { show: true, onZero: false, lineStyle: { color: axisColor, width: 4 } }
    },
    {
      type: 'value', gridIndex: 1, min: 0, max: 1, position: 'top',
      splitLine: { show: false }, axisTick: { show: false }, axisLabel: { show: false },
      axisLine: { show: true, onZero: false, lineStyle: { color: axisColor, width: 4 } }
    }
  ],
  yAxis: [
    mainAxis(yTicks, {
      min: -1209.4, max: 1154.8, position: 'left',
      name: 'Dist. from mouth [m]', nameLocation: 'middle', nameGap: 287,
      nameTextStyle: { fontFamily: 'Liberation Serif', fontSize: 128, color: axisColor }
    }, { margin: 38, padding: [14, 0, 0, 0] }),
    mainAxis(yTicks, { min: -1209.4, max: 1154.8, position: 'right', axisLabel: { show: false } }),
    {
      type: 'value', gridIndex: 1, min: -1, max: 1, position: 'right',
      splitLine: { show: false },
      axisLine: { show: true, onZero: false, lineStyle: { color: axisColor, width: 4 } },
      axisTick: { show: true, inside: true, length: 34, customValues: cbTicks, lineStyle: { color: axisColor, width: 3 } },
      axisLabel: {
        customValues: cbTicks, color: axisColor, fontFamily: 'Liberation Sans', fontSize: 72, margin: 34,
        padding: [16, 0, 0, 0],
        formatter: function (v) { return String(v); }
      },
      name: 'DifferencDist. from mouth [m]', nameLocation: 'middle', nameGap: 194, nameRotate: 90,
      nameTextStyle: { fontFamily: 'Liberation Serif', fontSize: 80.5, color: axisColor }
    },
    {
      type: 'value', gridIndex: 1, min: -1, max: 1, position: 'left',
      splitLine: { show: false }, axisTick: { show: false }, axisLabel: { show: false },
      axisLine: { show: true, onZero: false, lineStyle: { color: axisColor, width: 4 } }
    }
  ],
  series: [
    { type: 'custom', name: 'areas', silent: true, xAxisIndex: 0, yAxisIndex: 0, z: 1, renderItem: renderPatch, data: indexList(patchOutlines.length) },
    { type: 'custom', name: 'north strip', silent: true, xAxisIndex: 0, yAxisIndex: 0, z: 2, renderItem: renderStrip(northRows), data: indexList(northRows.length - 1) },
    { type: 'custom', name: 'south strip', silent: true, xAxisIndex: 0, yAxisIndex: 0, z: 2, renderItem: renderStrip(southRows), data: indexList(southRows.length - 1) },
    { type: 'custom', name: 'bar spots', silent: true, xAxisIndex: 0, yAxisIndex: 0, z: 3, renderItem: renderSpot, data: barSpots },
    { type: 'custom', name: 'streaks', silent: true, xAxisIndex: 0, yAxisIndex: 0, z: 4, renderItem: renderStreak, data: streaks },
    {
      type: 'scatter', name: 'fine', silent: true, xAxisIndex: 0, yAxisIndex: 0, z: 5, symbol: 'rect', symbolSize: 5,
      itemStyle: { opacity: 1, color: function (p) { return colorOf(p.value[2]); } }, data: fineSpots
    },
    {
      type: 'scatter', name: 'coarse', silent: true, xAxisIndex: 0, yAxisIndex: 0, z: 5, symbol: 'rect', symbolSize: 12,
      itemStyle: { opacity: 1, color: function (p) { return colorOf(p.value[2]); } }, data: coarseSpots
    },
    { type: 'custom', name: 'colorbar', silent: true, xAxisIndex: 2, yAxisIndex: 2, z: 1, renderItem: renderBar, data: [[0, 0]] }
  ]
};

var chart = echarts.init(document.getElementById('chart'));
chart.setOption(option);
</script>
</body>
</html>
